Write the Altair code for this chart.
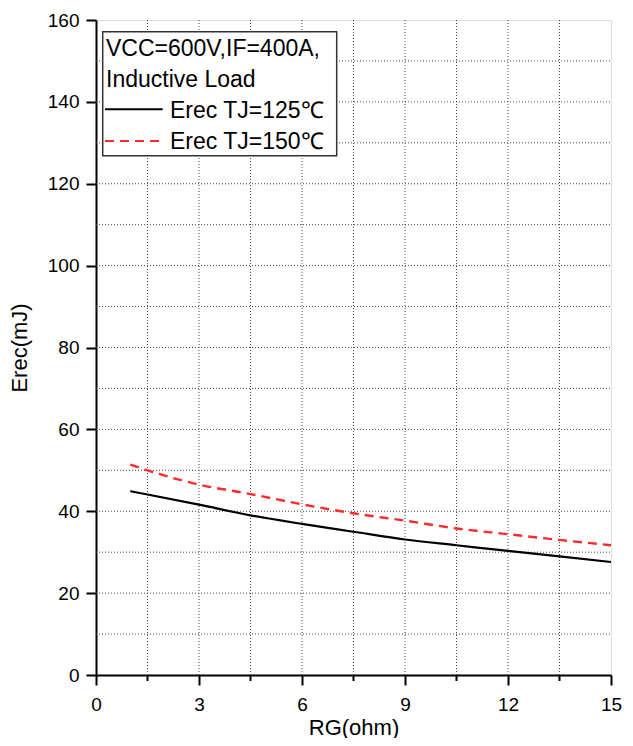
import altair as alt
import pandas as pd

# ---- data ----
rg = [1, 1.5, 3, 4.5, 6, 7.5, 9, 10.5, 12, 13.5, 15]
erec_125 = [44.9, 44.1, 41.6, 39.0, 36.9, 35.0, 33.1, 31.7, 30.3, 29.0, 27.6]
erec_150 = [51.4, 50.0, 46.5, 44.2, 41.7, 39.5, 37.7, 35.8, 34.4, 33.0, 31.7]

x_ticks = [0, 3, 6, 9, 12, 15]
x_grid = [1.5, 3, 4.5, 6, 7.5, 9, 10.5, 12, 13.5]
x_minor = [1.5, 4.5, 7.5, 10.5, 13.5]
y_ticks = [0, 20, 40, 60, 80, 100, 120, 140, 160]
y_grid = [10, 20, 30, 40, 50, 60, 70, 80, 90, 100, 110, 120, 130, 140, 150]

legend_head = ["VCC=600V,IF=400A,", "Inductive Load"]
series_names = ["Erec TJ=125℃", "Erec TJ=150℃"]

W, H = 515, 655
FONT = "Liberation Sans"

xscale = alt.Scale(domain=[0, 15], nice=False, zero=False)
yscale = alt.Scale(domain=[0, 160], nice=False, zero=False)

x_axis = alt.Axis(values=x_ticks, tickSize=10, tickWidth=2, tickColor="black",
                  domainColor="black", domainWidth=2, labelFontSize=19, labelFont=FONT,
                  labelColor="black", labelPadding=10, labelFlush=False, labelOverlap=False,
                  title="RG(ohm)", titleFontSize=22, titleFont=FONT, titleFontWeight="normal",
                  titleColor="black", titlePadding=3, grid=False, format="d")
y_axis = alt.Axis(values=y_ticks, tickSize=10, tickWidth=2, tickColor="black",
                  domainColor="black", domainWidth=2, labelFontSize=19, labelFont=FONT,
                  labelColor="black", labelPadding=7, labelFlush=False, labelOverlap=False,
                  title="Erec(mJ)", titleFontSize=22, titleFont=FONT, titleFontWeight="normal",
                  titleColor="black", titlePadding=16, grid=False, format="d")

dummy = pd.DataFrame({"a": [0]})

xg = alt.Chart(pd.DataFrame({"x": x_grid})).mark_rule(
    color="#444", strokeDash=[1, 2], strokeWidth=1
).encode(x=alt.X("x:Q", scale=xscale, axis=x_axis), y=alt.value(0), y2=alt.value(H))

yg = alt.Chart(pd.DataFrame({"y": y_grid})).mark_rule(
    color="#444", strokeDash=[1, 2], strokeWidth=1
).encode(y=alt.Y("y:Q", scale=yscale, axis=y_axis), x=alt.value(0), x2=alt.value(W))

minor = alt.Chart(pd.DataFrame({"x": x_minor})).mark_rule(
    color="black", strokeWidth=2
).encode(x=alt.X("x:Q", scale=xscale, axis=x_axis), y=alt.value(H), y2=alt.value(H + 6))

df125 = pd.DataFrame({"rg": rg, "e": erec_125})
df150 = pd.DataFrame({"rg": rg, "e": erec_150})

l125 = alt.Chart(df125).mark_line(color="black", strokeWidth=2.2, interpolate="monotone").encode(
    x=alt.X("rg:Q", scale=xscale, axis=x_axis), y=alt.Y("e:Q", scale=yscale, axis=y_axis))
l150 = alt.Chart(df150).mark_line(color="#ff2a2a", strokeWidth=2.4, strokeDash=[9, 6],
                                  interpolate="monotone").encode(
    x=alt.X("rg:Q", scale=xscale, axis=x_axis), y=alt.Y("e:Q", scale=yscale, axis=y_axis))

box = alt.Chart(dummy).mark_rect(fill="white", stroke="#333", strokeWidth=1.5).encode(
    x=alt.value(6.7), x2=alt.value(240.7), y=alt.value(11.7), y2=alt.value(135.7))

def txt(s, x, y):
    return alt.Chart(dummy).mark_text(align="left", baseline="alphabetic", fontSize=23,
                                      font=FONT, color="black").encode(
        x=alt.value(x), y=alt.value(y), text=alt.value(s))

t1 = txt(legend_head[0], 10, 35.7)
t2 = txt(legend_head[1], 10, 66.7)
t3 = txt(series_names[0], 74, 98)
t4 = txt(series_names[1], 74, 129)

s1 = alt.Chart(dummy).mark_rule(color="black", strokeWidth=2).encode(
    x=alt.value(9), x2=alt.value(66.7), y=alt.value(89.3))
s2 = alt.Chart(dummy).mark_rule(color="#ff2a2a", strokeWidth=2, strokeDash=[9, 6]).encode(
    x=alt.value(9), x2=alt.value(66.7), y=alt.value(121))

chart = alt.layer(xg, yg, minor, l125, l150, box, t1, t2, t3, t4, s1, s2).properties(
    width=W, height=H,
    autosize=alt.AutoSizeParams(type="none"),
    padding={"left": 88, "top": 12, "right": 14, "bottom": 63},
).configure_view(stroke="black", strokeWidth=2).configure(background="white")

chart.save("out.html", embed_options={"renderer": "svg", "actions": False})
